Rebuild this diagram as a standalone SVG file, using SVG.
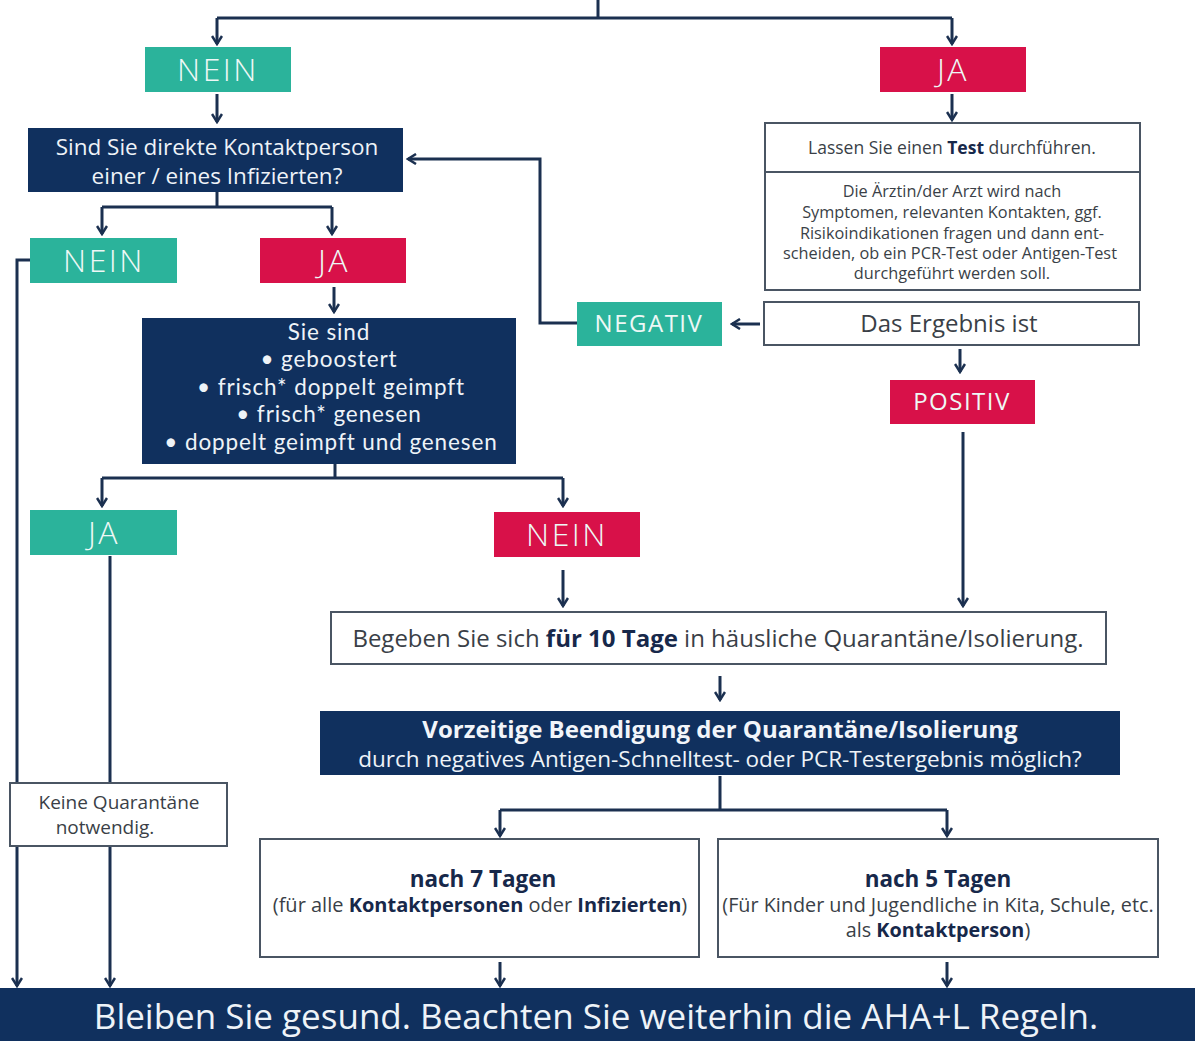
<svg xmlns="http://www.w3.org/2000/svg" width="1195" height="1041" viewBox="0 0 1195 1041">
<style>
.teal{fill:#2bb39b}
.red{fill:#d81149}
.navy{fill:#10305e}
.wbox{fill:#ffffff;stroke:#4a5563;stroke-width:2}
.ln{fill:none;stroke:#1b3050;stroke-width:3}
text{font-family:"Open Sans",Lato,"Liberation Sans",sans-serif;text-anchor:middle}
.lbl{fill:#eef8f6;font-size:32px;letter-spacing:2.5px;font-weight:300}
.lbl2{fill:#eef8f6;font-size:24px;letter-spacing:1.5px}
.wt{fill:#eef3f8;font-size:22.5px}
.ws{fill:#eef3f8;font-family:Lato,"Open Sans",sans-serif;font-size:22.5px;letter-spacing:0.9px}
.gt{fill:#3a3f47}
.b{font-weight:bold;fill:#17284a}
</style>
<defs>
<marker id="ah" viewBox="0 0 12 12" refX="10" refY="6" markerWidth="12" markerHeight="12" markerUnits="userSpaceOnUse" orient="auto">
<polyline points="2,1 10,6 2,11" fill="none" stroke="#1b3050" stroke-width="2.5"/>
</marker>
</defs>
<rect width="1195" height="1041" fill="#ffffff"/>
<g id="connectors">
<path class="ln" d="M598,0 V18 M217,18 H952"/>
<path class="ln" d="M217,18 V44" marker-end="url(#ah)"/>
<path class="ln" d="M952,18 V44" marker-end="url(#ah)"/>
<path class="ln" d="M217,94 V122" marker-end="url(#ah)"/>
<path class="ln" d="M952,94 V120" marker-end="url(#ah)"/>
<path class="ln" d="M217,192 V207 M102,207 H332"/>
<path class="ln" d="M102,207 V234" marker-end="url(#ah)"/>
<path class="ln" d="M332,207 V234" marker-end="url(#ah)"/>
<path class="ln" d="M30,260 H17 V986" marker-end="url(#ah)"/>
<path class="ln" d="M334,287 V312" marker-end="url(#ah)"/>
<path class="ln" d="M335,463 V478 M102,478 H563"/>
<path class="ln" d="M102,478 V506" marker-end="url(#ah)"/>
<path class="ln" d="M563,478 V506" marker-end="url(#ah)"/>
<path class="ln" d="M110,556 V986" marker-end="url(#ah)"/>
<path class="ln" d="M563,570 V606" marker-end="url(#ah)"/>
<path class="ln" d="M760,324 H732" marker-end="url(#ah)"/>
<path class="ln" d="M577,323 H540 V159 H408" marker-end="url(#ah)"/>
<path class="ln" d="M960,349 V372" marker-end="url(#ah)"/>
<path class="ln" d="M963,432 V606" marker-end="url(#ah)"/>
<path class="ln" d="M720,676 V700" marker-end="url(#ah)"/>
<path class="ln" d="M720,776 V810 M500,810 H947"/>
<path class="ln" d="M500,810 V836" marker-end="url(#ah)"/>
<path class="ln" d="M947,810 V836" marker-end="url(#ah)"/>
<path class="ln" d="M500,962 V986" marker-end="url(#ah)"/>
<path class="ln" d="M947,962 V986" marker-end="url(#ah)"/>
</g>
<g id="nein1"><rect class="teal" x="145" y="47" width="146" height="45"/><text class="lbl" x="218" y="81">NEIN</text></g>
<g id="ja1"><rect class="red" x="880" y="47" width="146" height="45"/><text class="lbl" x="953" y="81">JA</text></g>
<g id="kontakt"><rect class="navy" x="28" y="128" width="375" height="64"/>
<text class="wt" x="217" y="155" font-size="24.5">Sind Sie direkte Kontaktperson</text>
<text class="wt" x="217" y="184" font-size="24.5">einer / eines Infizierten?</text></g>
<g id="nein2"><rect class="teal" x="30" y="238" width="147" height="45"/><text class="lbl" x="104" y="272">NEIN</text></g>
<g id="ja2"><rect class="red" x="260" y="238" width="146" height="45"/><text class="lbl" x="334" y="272">JA</text></g>
<g id="siesind"><rect class="navy" x="142" y="318" width="374" height="146"/>
<text class="ws" x="329" y="340">Sie sind</text>
<text class="ws" x="329" y="367">• geboostert</text>
<text class="ws" x="331" y="395">• frisch* doppelt geimpft</text>
<text class="ws" x="329" y="422">• frisch* genesen</text>
<text class="ws" x="331" y="450">• doppelt geimpft und genesen</text></g>
<g id="ja3"><rect class="teal" x="30" y="510" width="147" height="45"/><text class="lbl" x="104" y="544">JA</text></g>
<g id="nein3"><rect class="red" x="494" y="512" width="146" height="45"/><text class="lbl" x="567" y="546">NEIN</text></g>
<g id="keine"><rect class="wbox" x="10" y="783" width="217" height="63"/>
<text class="gt" x="119" y="809" font-size="19">Keine Quarantäne</text>
<text class="gt" x="105" y="834" font-size="19">notwendig.</text></g>
<g id="test"><rect class="wbox" x="765" y="123" width="375" height="167"/>
<line x1="765" y1="172" x2="1140" y2="172" stroke="#4a5563" stroke-width="2"/>
<text class="gt" x="952" y="154" font-size="17.5">Lassen Sie einen <tspan class="b">Test</tspan> durchführen.</text>
<text class="gt" x="952" y="197" font-size="16.3">Die Ärztin/der Arzt wird nach</text>
<text class="gt" x="952" y="218" font-size="16.3">Symptomen, relevanten Kontakten, ggf.</text>
<text class="gt" x="952" y="239" font-size="16.3">Risikoindikationen fragen und dann ent-</text>
<text class="gt" x="950" y="259" font-size="16.3">scheiden, ob ein PCR-Test oder Antigen-Test</text>
<text class="gt" x="952" y="279" font-size="16.3">durchgeführt werden soll.</text></g>
<g id="ergebnis"><rect class="wbox" x="764" y="302" width="375" height="43"/>
<text class="gt" x="949" y="332" font-size="24">Das Ergebnis ist</text></g>
<g id="negativ"><rect class="teal" x="577" y="302" width="145" height="44"/><text class="lbl2" x="649" y="332">NEGATIV</text></g>
<g id="positiv"><rect class="red" x="890" y="380" width="145" height="44"/><text class="lbl2" x="962" y="410">POSITIV</text></g>
<g id="quarantaene"><rect class="wbox" x="331" y="612" width="775" height="52"/>
<text class="gt" x="718" y="647" font-size="24">Begeben Sie sich <tspan class="b">für 10 Tage</tspan> in häusliche Quarantäne/Isolierung.</text></g>
<g id="vorzeitig"><rect class="navy" x="320" y="711" width="800" height="64"/>
<text x="720" y="738" font-size="24" font-weight="bold" fill="#f2f5fa">Vorzeitige Beendigung der Quarantäne/Isolierung</text>
<text class="wt" x="720" y="767" font-size="24">durch negatives Antigen-Schnelltest- oder PCR-Testergebnis möglich?</text></g>
<g id="nach7"><rect class="wbox" x="260" y="839" width="439" height="118"/>
<text class="b" x="483" y="887" font-size="22.5">nach 7 Tagen</text>
<text class="gt" x="480" y="912" font-size="20">(für alle <tspan class="b">Kontaktpersonen</tspan> oder <tspan class="b">Infizierten</tspan>)</text></g>
<g id="nach5"><rect class="wbox" x="718" y="839" width="440" height="118"/>
<text class="b" x="938" y="887" font-size="22.5">nach 5 Tagen</text>
<text class="gt" x="938" y="912" font-size="19.8">(Für Kinder und Jugendliche in Kita, Schule, etc.</text>
<text class="gt" x="938" y="937" font-size="19.8">als <tspan class="b">Kontaktperson</tspan>)</text></g>
<g id="bottom"><rect class="navy" x="0" y="988" width="1195" height="53"/>
<text x="596" y="1029" font-size="35" fill="#eef3f8">Bleiben Sie gesund. Beachten Sie weiterhin die AHA+L Regeln.</text></g>
</svg>
